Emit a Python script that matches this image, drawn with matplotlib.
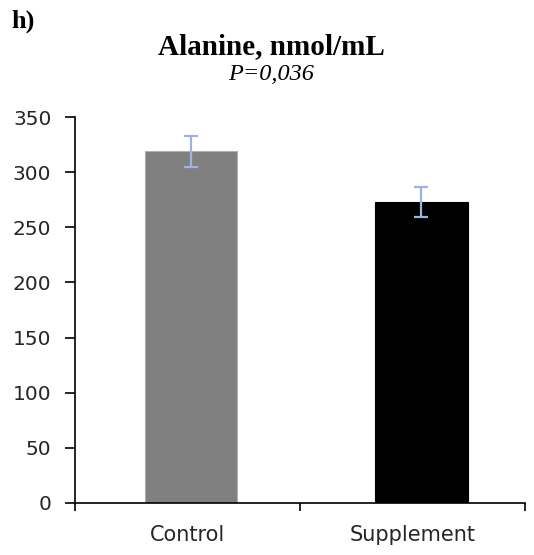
import matplotlib
matplotlib.use("Agg")
import matplotlib.pyplot as plt

groups = ["Control", "Supplement"]
means = [319, 273]
errors = [14, 14]
colors = ["#808080", "#000000"]
yticks = [0, 50, 100, 150, 200, 250, 300, 350]

fig = plt.figure(figsize=(5.34, 5.55), dpi=100)
ax = fig.add_axes([0.1404, 0.0937, 0.8426, 0.6953])

x = [0.015, 1.04]
ax.bar(x, means, width=0.41, color=colors, edgecolor=["#b0b0b0", "#000000"], linewidth=0.8)
ax.errorbar(x, means, yerr=errors, fmt="none", ecolor="#9db4e0", elinewidth=1.6, capsize=5, capthick=1.6)

ax.set_xlim(-0.5, 1.5)
ax.set_ylim(0, 350)
ax.set_yticks(yticks)
ax.set_xticks([0, 1])
ax.set_xticklabels(groups)
ax.set_xticks([-0.5, 0.5, 1.5], minor=True)
ax.tick_params(axis="x", which="major", length=0, pad=16, labelsize=15, labelcolor="#262626")
ax.tick_params(axis="x", which="minor", length=6, width=1.2, direction="out")
ax.tick_params(axis="y", length=7, width=1.2, direction="out", pad=10, labelsize=14.5, labelcolor="#262626")

for s in ["top", "right"]:
    ax.spines[s].set_visible(False)
for s in ["left", "bottom"]:
    ax.spines[s].set_linewidth(1.2)

fig.text(0.022, 0.962, "h)", fontfamily="Liberation Serif", fontweight="bold", fontsize=19, va="center")
fig.text(0.508, 0.916, "Alanine, nmol/mL", fontfamily="Liberation Serif", fontweight="bold", fontsize=21, ha="center", va="center")
fig.text(0.508, 0.866, "P=0,036", fontfamily="Liberation Serif", fontstyle="italic", fontsize=17.5, ha="center", va="center")

fig.savefig("out.png", dpi=100)
